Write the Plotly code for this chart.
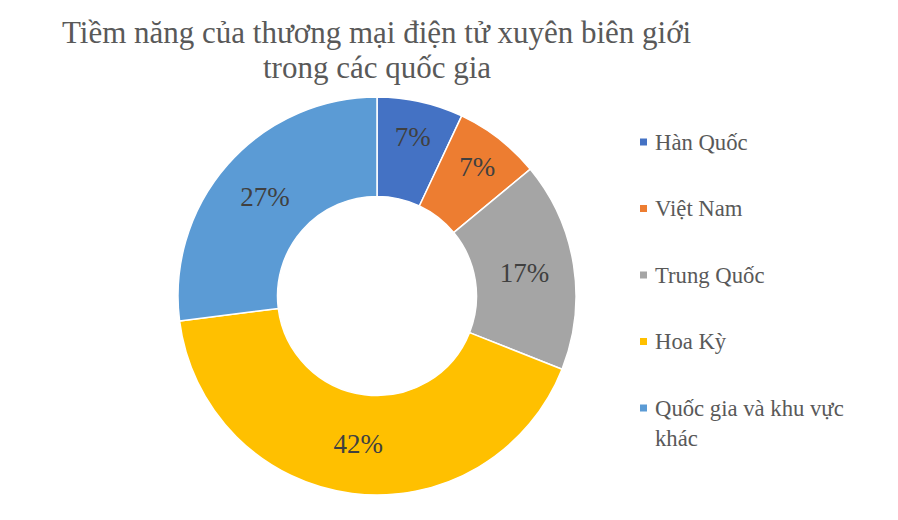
import plotly.graph_objects as go

# Dữ liệu biểu đồ
labels = ['Hàn Quốc', 'Việt Nam', 'Trung Quốc', 'Hoa Kỳ', 'Quốc gia và khu vực khác']
legend_text = ['Hàn Quốc', 'Việt Nam', 'Trung Quốc', 'Hoa Kỳ', 'Quốc gia và khu vực<br>khác']
values = [7, 7, 17, 42, 27]
colors = ['#4472C4', '#ED7D31', '#A5A5A5', '#FFC000', '#5B9BD5']
title_lines = ['Tiềm năng của thương mại điện tử xuyên biên giới', 'trong các quốc gia']

W, H = 898, 520
OFF = 8  # lề mặc định của trang html
serif = 'Liberation Serif'


def px(x):
    return (x - OFF) / W


def py(y):
    return 1 - (y - OFF) / H


fig = go.Figure()

# Vòng tròn (donut)
fig.add_trace(go.Pie(labels=labels,
                     values=values,
                     hole=0.5,
                     sort=False,
                     direction='clockwise',
                     rotation=0,
                     marker=dict(colors=colors, line=dict(color='white', width=1.5)),
                     texttemplate='%{value}%',
                     textposition='inside',
                     insidetextorientation='horizontal',
                     textfont=dict(family=serif, size=27, color='#404040'),
                     showlegend=False,
                     domain=dict(x=[px(178), px(576)], y=[py(495), py(97)])))

# Chú giải vẽ tay để có khoảng cách giống bản gốc
for i, (txt, col) in enumerate(zip(legend_text, colors)):
    yc = 142 + i * 66.5
    fig.add_shape(type='rect', xref='paper', yref='paper',
                  x0=px(640), x1=px(647), y0=py(yc + 3.5), y1=py(yc - 3.5),
                  fillcolor=col, line=dict(width=0))
    fig.add_annotation(text=txt, xref='paper', yref='paper',
                       x=px(653), y=py(yc - 14.5),
                       xanchor='left', yanchor='top', align='left',
                       showarrow=False,
                       font=dict(family=serif, size=22.7, color='#595959'))

# Tiêu đề (hai dòng riêng để khoảng cách dòng sát như bản gốc)
for i, line in enumerate(title_lines):
    fig.add_annotation(text=line, xref='paper', yref='paper',
                       x=px(377), y=py(32 + i * 35),
                       xanchor='center', yanchor='middle', showarrow=False,
                       font=dict(family=serif, size=31, color='#595959'))

fig.update_layout(width=W, height=H,
                  margin=dict(l=0, r=0, t=0, b=0),
                  paper_bgcolor='white',
                  plot_bgcolor='white')

fig.write_html('out.html')
